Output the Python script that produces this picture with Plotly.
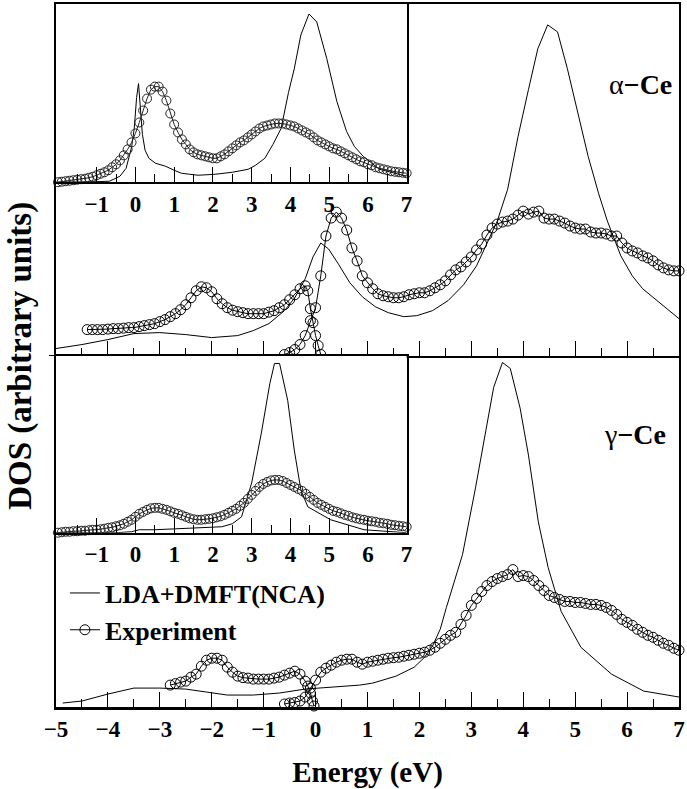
import plotly.graph_objects as go

FONT = "Liberation Serif, Times New Roman, serif"

# ---------------- energy grids (eV) ----------------
inset_E = [-2.0, -1.9, -1.8, -1.7, -1.6, -1.5, -1.4, -1.3, -1.2, -1.1,
           -1.0, -0.9, -0.8, -0.7, -0.6, -0.5, -0.4, -0.3, -0.2, -0.1,
           0.0, 0.1, 0.2, 0.3, 0.4, 0.5, 0.6, 0.7, 0.8, 0.9,
           1.0, 1.1, 1.2, 1.3, 1.4, 1.5, 1.6, 1.7, 1.8, 1.9,
           2.0, 2.1, 2.2, 2.3, 2.4, 2.5, 2.6, 2.7, 2.8, 2.9,
           3.0, 3.1, 3.2, 3.3, 3.4, 3.5, 3.6, 3.7, 3.8, 3.9,
           4.0, 4.1, 4.2, 4.3, 4.4, 4.5, 4.6, 4.7, 4.8, 4.9,
           5.0, 5.1, 5.2, 5.3, 5.4, 5.5, 5.6, 5.7, 5.8, 5.9,
           6.0, 6.1, 6.2, 6.3, 6.4, 6.5, 6.6, 6.7, 6.8, 6.9,
           7.0]

bis_E = [-0.6, -0.5, -0.4, -0.3, -0.2, -0.1, 0.0, 0.1, 0.2, 0.3,
         0.4, 0.5, 0.6, 0.7, 0.8, 0.9, 1.0, 1.1, 1.2, 1.3,
         1.4, 1.5, 1.6, 1.7, 1.8, 1.9, 2.0, 2.1, 2.2, 2.3,
         2.4, 2.5, 2.6, 2.7, 2.8, 2.9, 3.0, 3.1, 3.2, 3.3,
         3.4, 3.5, 3.6, 3.7, 3.8, 3.9, 4.0, 4.1, 4.2, 4.3,
         4.4, 4.5, 4.6, 4.7, 4.8, 4.9, 5.0, 5.1, 5.2, 5.3,
         5.4, 5.5, 5.6, 5.7, 5.8, 5.9, 6.0, 6.1, 6.2, 6.3,
         6.4, 6.5, 6.6, 6.7, 6.8, 6.9, 7.0]

# ---------------- alpha-Ce, main panel ----------------
alpha_lda_E = [-5.0, -4.5, -4.0, -3.5, -3.0, -2.5, -2.0, -1.5, -1.2, -0.9,
               -0.6, -0.4, -0.2, -0.05, 0.1, 0.25, 0.45, 0.66, 0.9, 1.15,
               1.4, 1.7, 1.95, 2.25, 2.55, 2.85, 3.1, 3.3, 3.5, 3.7,
               3.9, 4.1, 4.28, 4.47, 4.66, 4.85, 5.05, 5.25, 5.45, 5.62,
               5.88, 6.1, 6.3, 6.64, 7.0]
alpha_lda = [7, 11, 16, 22, 23, 21, 18, 20, 25, 32,
             45, 58, 77, 99, 113, 107, 91, 73, 59, 49,
             43, 39, 40, 45, 55, 71, 90, 112, 135, 167,
             220, 267, 308, 332, 325, 288, 243, 200, 163, 135,
             100, 80, 67, 52, 37]

alpha_pes_E = [-4.4, -4.3, -4.2, -4.1, -4.0, -3.9, -3.8, -3.7, -3.6, -3.5,
               -3.4, -3.3, -3.2, -3.1, -3.0, -2.9, -2.8, -2.7, -2.6, -2.5,
               -2.4, -2.3, -2.2, -2.1, -2.0, -1.9, -1.8, -1.7, -1.6, -1.5,
               -1.4, -1.3, -1.2, -1.1, -1.0, -0.9, -0.8, -0.7, -0.6, -0.5,
               -0.4, -0.3, -0.2, -0.15, -0.1, -0.05, 0.0, 0.05, 0.1]
alpha_pes = [26, 26, 26, 26, 26.5, 27, 27, 27.5, 28, 28,
             29, 30, 31, 32, 34, 36, 39, 42, 46, 51,
             58, 65, 69, 68, 64, 57, 52, 48, 45.5, 44,
             43, 42, 42, 42, 42, 43.5, 45, 48, 51, 56,
             61, 67, 70, 65, 47, 33, 20, 10, 1]

alpha_bis = [1, 3, 6, 11, 20, 35, 48, 80, 120, 138,
             144, 138, 126, 108, 95, 80, 73, 67, 62, 60,
             59, 58, 58, 59, 61, 62, 63, 63, 65, 68,
             71, 75, 81, 86, 89, 94, 99, 106, 112, 121,
             128, 132, 134, 135, 137, 141, 145, 142, 144, 145,
             138, 137, 137, 135, 133, 130, 128, 127, 127, 124,
             123, 123, 122, 120, 120, 113, 108, 105, 103, 100,
             98, 95, 91, 88, 86, 85, 85]

# ---------------- alpha-Ce, inset ----------------
alpha_inset_lda_E = [-2.05, -1.5, -1.0, -0.67, -0.4, -0.24, -0.1, -0.03, 0.03, 0.08,
                     0.13, 0.18, 0.25, 0.35, 0.52, 0.78, 1.0, 1.19, 1.4, 1.62,
                     2.06, 2.5, 2.91, 3.1, 3.34, 3.55, 3.76, 3.95, 4.1, 4.27,
                     4.48, 4.68, 4.94, 5.2, 5.45, 5.65, 5.88, 6.3, 7.0]
alpha_inset_lda = [0, 0, 0.5, 1, 6, 14, 35, 54, 85, 99,
                   75, 48, 32, 24, 19, 16, 12, 9, 8, 7,
                   8, 10, 13, 17, 24, 38, 54, 90, 114, 148,
                   169, 161, 124, 81, 51, 36, 26, 13, 6]

alpha_inset_exp = [0, 0.5, 1, 1.5, 2, 2.5, 3, 3.5, 4.5, 5.5,
                   7, 8.5, 10, 12, 15, 18, 22, 27, 33, 40,
                   49, 60, 72, 84, 93, 96, 96, 91, 82, 69,
                   58, 50, 43, 38, 33, 30, 28, 27, 26, 25,
                   24, 24, 26, 28, 31, 34, 37, 40, 42, 45,
                   48, 51, 54, 56, 57, 58, 59, 59, 59, 58,
                   57, 56, 54, 52, 50, 48, 45, 42, 40, 38,
                   36, 34, 33, 31, 29, 27, 25, 23, 21, 20,
                   18, 17, 15, 14, 13, 12, 11, 10.5, 10, 9.5,
                   9]

# ---------------- gamma-Ce, main panel ----------------
gamma_lda_E = [-4.87, -4.5, -4.0, -3.75, -3.5, -3.0, -2.5, -2.1, -1.7, -1.2,
               -0.7, -0.2, 0.3, 0.85, 1.1, 1.55, 1.9, 2.1, 2.26, 2.4,
               2.52, 2.83, 3.08, 3.27, 3.43, 3.6, 3.75, 3.94, 4.1, 4.29,
               4.48, 4.73, 5.11, 5.7, 6.32, 7.0]
gamma_lda = [4, 6, 13, 16, 19, 19, 18, 15, 12, 12,
             14, 18, 20, 22, 24, 31, 40, 50, 62, 78,
             100, 153, 220, 276, 321, 346, 340, 300, 253, 186,
             140, 96, 60, 33, 16, 10]

gamma_pes_E = [-2.8, -2.7, -2.6, -2.5, -2.4, -2.3, -2.2, -2.1, -2.0, -1.9,
               -1.8, -1.7, -1.6, -1.5, -1.4, -1.3, -1.2, -1.1, -1.0, -0.9,
               -0.8, -0.7, -0.6, -0.5, -0.4, -0.3, -0.2, -0.15, -0.1, -0.06,
               -0.03]
gamma_pes = [22, 23.5, 25, 26, 30, 33, 41, 47, 49, 49,
             47, 40, 35, 31, 29.5, 29, 28, 28, 28, 28,
             29, 30, 32, 34, 36, 33, 26, 21, 14, 6,
             1]

gamma_bis = [3, 4, 4.5, 6, 10, 19, 27, 35, 39, 42,
             45, 47, 48, 48, 45, 43, 45, 46, 47, 48,
             49, 49.5, 50, 51, 52, 53, 54, 55, 57, 60,
             64, 68, 72, 75, 83, 92, 102, 109, 116, 122,
             126, 129, 131, 133, 138, 131, 132, 131, 127, 122,
             117, 112, 110, 108, 106, 106, 105, 105, 104, 103,
             103, 102, 100, 97, 93, 88, 85, 82, 78, 75,
             72, 70, 67, 64, 62, 59, 57]

# ---------------- gamma-Ce, inset ----------------
gamma_inset_lda_E = [-2.05, -1.0, -0.5, -0.1, 0.1, 0.5, 1.0, 1.62, 2.23, 2.5,
                     2.74, 3.0, 3.25, 3.47, 3.59, 3.72, 3.93, 4.1, 4.27, 4.45,
                     5.04, 5.9, 7.0]
gamma_inset_lda = [0, 0, 0, 1, 3, 3, 4, 5, 6, 9,
                   16, 50, 100, 150, 170, 170, 133, 83, 43, 26,
                   13, 3, 0]

gamma_inset_exp = [0, 0.5, 1, 1, 1.5, 1.5, 2, 2, 2.5, 3,
                   3, 3.5, 4, 5, 5.5, 6.5, 7.5, 9, 11, 13,
                   16, 19, 21, 23, 24.5, 25, 25, 24, 23, 21.5,
                   20, 19, 17.5, 16, 14.5, 13.5, 13, 13, 13.5, 14,
                   14.5, 15.5, 16.5, 18, 20, 22, 24, 27, 30, 34,
                   38, 42, 46, 49, 51, 52.5, 53, 53, 52, 50,
                   48, 46, 44, 42, 39, 36, 33, 30, 28, 26,
                   24, 22, 21, 19.5, 18, 17, 15.5, 14.5, 13.5, 13,
                   12, 11.5, 11, 10, 9.5, 9, 8, 7.5, 7, 6.5,
                   6]

# ---------------- tick labels ----------------
main_ticks = list(range(-5, 8))
main_ticktext = ["\u2212" + str(-t) if t < 0 else str(t) for t in main_ticks]
inset_ticks = list(range(-1, 8))
inset_ticktext = ["\u2212" + str(-t) if t < 0 else str(t) for t in inset_ticks]
main_minor = [t + 0.5 for t in range(-5, 7)]
inset_minor = [t + 0.5 for t in range(-2, 7)]

fig = go.Figure()


def add_lda(E, D, xa, ya, show=False):
    fig.add_trace(go.Scatter(
        x=E, y=D, mode="lines", name="LDA+DMFT(NCA)",
        line=dict(color="black", width=1),
        xaxis=xa, yaxis=ya, showlegend=show, legendrank=1))


def add_exp(E, D, xa, ya, size, color, show=False):
    fig.add_trace(go.Scatter(
        x=E, y=D, mode="lines+markers", name="Experiment",
        line=dict(color=color, width=1),
        marker=dict(symbol="circle-open", size=size, color=color,
                    line=dict(width=1, color=color)),
        cliponaxis=False,
        xaxis=xa, yaxis=ya, showlegend=show, legendrank=2))


# alpha main
add_lda(alpha_lda_E, alpha_lda, "x2", "y2")
add_exp(alpha_pes_E, alpha_pes, "x2", "y2", 10, "black")
add_exp(bis_E, alpha_bis, "x2", "y2", 10, "black")
# gamma main
add_lda(gamma_lda_E, gamma_lda, "x", "y", show=True)
add_exp(gamma_pes_E, gamma_pes, "x", "y", 10, "black")
add_exp(bis_E, gamma_bis, "x", "y", 10, "black", show=True)
# insets
add_lda(alpha_inset_lda_E, alpha_inset_lda, "x3", "y3")
add_exp(inset_E, alpha_inset_exp, "x3", "y3", 9, "#222222")
add_lda(gamma_inset_lda_E, gamma_inset_lda, "x4", "y4")
add_exp(inset_E, gamma_inset_exp, "x4", "y4", 9, "#222222")

tickfont = dict(family=FONT, size=23, color="black", weight="bold")

main_x = dict(range=[-5, 7], tickvals=main_ticks, ticktext=main_ticktext,
              ticks="inside", ticklen=15, tickwidth=1, tickcolor="black",
              minor=dict(tickvals=main_minor, ticks="inside", ticklen=8,
                         tickwidth=1, tickcolor="black"),
              showline=True, linecolor="black", showgrid=False,
              zeroline=False, tickfont=tickfont, ticklabelstandoff=0)
inset_x = dict(range=[-2.05, 7], tickvals=inset_ticks, ticktext=inset_ticktext,
               ticks="inside", ticklen=15, tickwidth=1, tickcolor="black",
               minor=dict(tickvals=inset_minor, ticks="inside", ticklen=8,
                          tickwidth=1, tickcolor="black"),
               showline=True, linewidth=1.5, linecolor="black", mirror=True,
               showgrid=False, zeroline=False, tickfont=tickfont,
               ticklabelstandoff=0)
plain_y = dict(showline=True, linecolor="black", mirror=True, showgrid=False,
               zeroline=False, showticklabels=False, ticks="")

W_IN = (410 - 56) / 629

fig.update_layout(
    width=687, height=789,
    margin=dict(l=56, r=2, t=2, b=81),
    paper_bgcolor="white", plot_bgcolor="white",
    font=dict(family=FONT, color="black"),
    xaxis=dict(main_x, domain=[0, 1], anchor="y", linewidth=2.5,
               title=dict(text="Energy (eV)", standoff=24,
                          font=dict(family=FONT, size=29, weight="bold"))),
    yaxis=dict(plain_y, domain=[0, 0.5], anchor="x", range=[0, 353],
               linewidth=2, ticks="outside", tickvals=[353], ticklen=5,
               tickcolor="black"),
    xaxis2=dict(main_x, domain=[0, 1], anchor="y2", matches="x",
                showticklabels=False, linewidth=2, mirror=True),
    yaxis2=dict(plain_y, domain=[0.5, 1], anchor="x2", range=[0, 353],
                linewidth=2),
    xaxis3=dict(inset_x, domain=[0, W_IN], anchor="y3"),
    yaxis3=dict(plain_y, domain=[0.7465, 1], anchor="x3", range=[0, 179],
                linewidth=1.5),
    xaxis4=dict(inset_x, domain=[0, W_IN], anchor="y4"),
    yaxis4=dict(plain_y, domain=[0.2479, 0.5], anchor="x4", range=[0, 178],
                linewidth=1.5),
    legend=dict(x=0.0143, y=0.1955, xanchor="left", yanchor="top",
                bgcolor="rgba(0,0,0,0)", itemwidth=30,
                font=dict(family=FONT, size=26, color="black", weight="bold")),
    annotations=[
        dict(text="DOS (arbitrary units)", xref="paper", yref="paper",
             x=-0.0572, y=0.5, xanchor="center", yanchor="middle",
             textangle=-90, showarrow=False,
             font=dict(family=FONT, size=33, weight="bold", color="black")),
        dict(text="\u03b1<b>\u2212Ce</b>", xref="paper", yref="paper",
             x=0.938, y=0.885, xanchor="center", yanchor="middle",
             showarrow=False,
             font=dict(family=FONT, size=28, color="black")),
        dict(text="\u03b3<b>\u2212Ce</b>", xref="paper", yref="paper",
             x=0.930, y=0.387, xanchor="center", yanchor="middle",
             showarrow=False,
             font=dict(family=FONT, size=28, color="black")),
    ],
)

fig.write_html("out.html")
